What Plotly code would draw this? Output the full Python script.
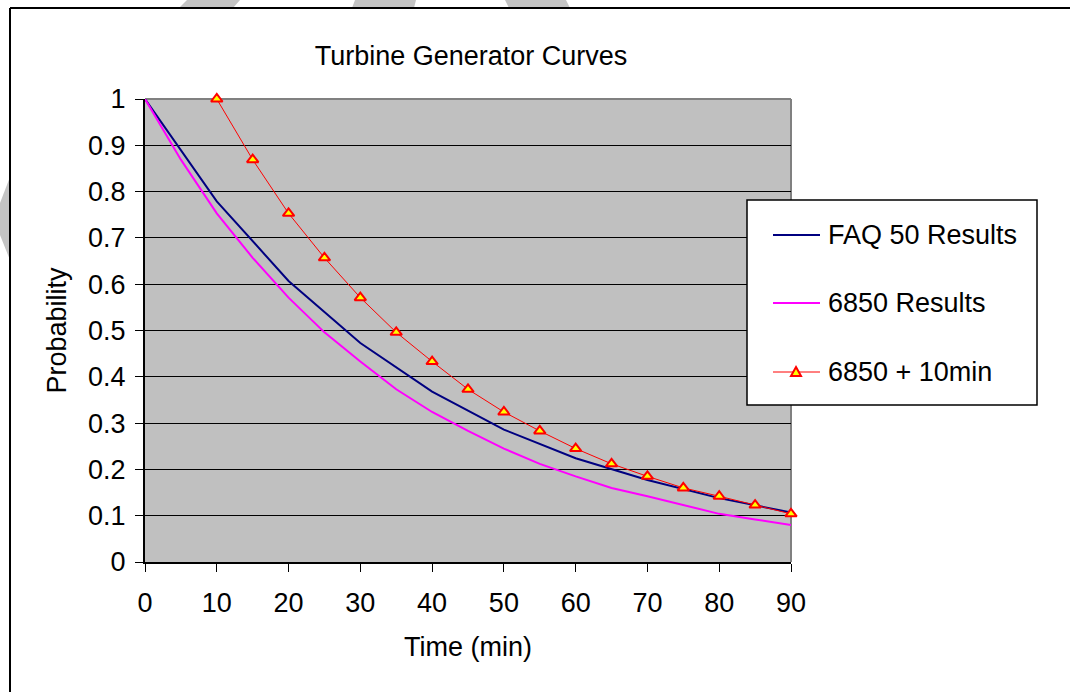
import plotly.graph_objects as go

# ---- data -------------------------------------------------------------
time_faq = [0, 10, 20, 30, 40, 50, 60, 70, 80, 90]
faq50_results = [1.0, 0.779, 0.607, 0.473, 0.368, 0.286, 0.224, 0.177, 0.138, 0.107]

time_6850 = [0, 5, 10, 15, 20, 25, 30, 35, 40, 45, 50, 55, 60, 65, 70, 75, 80, 85, 90]
results_6850 = [1.0, 0.869, 0.753, 0.657, 0.571, 0.496, 0.433, 0.373, 0.324, 0.283,
                0.245, 0.212, 0.185, 0.160, 0.142, 0.123, 0.104, 0.092, 0.080]

time_6850_plus10 = [10, 15, 20, 25, 30, 35, 40, 45, 50, 55, 60, 65, 70, 75, 80, 85, 90]
results_6850_plus10 = [1.0, 0.869, 0.753, 0.657, 0.571, 0.496, 0.433, 0.373, 0.324,
                       0.283, 0.245, 0.212, 0.185, 0.160, 0.142, 0.123, 0.104]

x_ticks = [0, 10, 20, 30, 40, 50, 60, 70, 80, 90]
y_ticks = [0, 0.1, 0.2, 0.3, 0.4, 0.5, 0.6, 0.7, 0.8, 0.9, 1]
y_tick_labels = ["0", "0.1", "0.2", "0.3", "0.4", "0.5", "0.6", "0.7", "0.8", "0.9", "1"]

series_names = ["FAQ 50 Results", "6850 Results", "6850 + 10min"]

# ---- page geometry ----------------------------------------------------
W, H = 1070, 692
ML, MR, MT, MB = 145, 279, 99, 130
PW, PH = W - ML - MR, H - MT - MB
FONT = "Liberation Sans, Arial, sans-serif"
FS = 27


def px(x):
    return (x - ML) / PW


def py(y):
    return (H - MB - y) / PH


fig = go.Figure()

fig.add_trace(go.Scatter(x=time_faq, y=faq50_results, mode="lines",
                         line=dict(color="#000080", width=2),
                         name=series_names[0], showlegend=False))
fig.add_trace(go.Scatter(x=time_6850, y=results_6850, mode="lines",
                         line=dict(color="#FF00FF", width=2),
                         name=series_names[1], showlegend=False))
fig.add_trace(go.Scatter(x=time_6850_plus10, y=results_6850_plus10, mode="lines+markers",
                         line=dict(color="#FF0000", width=1),
                         marker=dict(symbol="triangle-up", size=10, color="#FFFF00",
                                     line=dict(color="#FF0000", width=2)),
                         name=series_names[2], showlegend=False, cliponaxis=False))

shapes = []

# plot-area frame on the top and right sides
shapes.append(dict(type="line", xref="paper", yref="paper", x0=0, x1=1, y0=1, y1=1,
                   line=dict(color="#808080", width=2), layer="between"))
shapes.append(dict(type="line", xref="paper", yref="paper", x0=1, x1=1, y0=0, y1=1,
                   line=dict(color="#808080", width=2), layer="between"))

# light grey watermark pieces outside the chart frame
wm = "#C4C4C4"
for poly in ([(187, 0), (240, 0), (233, 8), (179, 8)],
             [(355, 0), (416, 0), (414, 8), (352, 8)],
             [(505, 0), (566, 0), (570, 8), (509, 8)],
             [(10, 177), (0, 203), (0, 235), (10, 260)]):
    path = "M " + " L ".join(f"{px(a):.5f},{py(b):.5f}" for a, b in poly) + " Z"
    shapes.append(dict(type="path", xref="paper", yref="paper", path=path,
                       fillcolor=wm, line=dict(width=0), layer="above"))

# outer chart frame
shapes.append(dict(type="line", xref="paper", yref="paper",
                   x0=px(10), x1=px(W + 5), y0=py(8), y1=py(8),
                   line=dict(color="#000000", width=2), layer="above"))
shapes.append(dict(type="line", xref="paper", yref="paper",
                   x0=px(10), x1=px(10), y0=py(8), y1=py(H + 5),
                   line=dict(color="#000000", width=2), layer="above"))

# legend box
lx0, lx1, ly0, ly1 = 747, 1037, 200, 405
shapes.append(dict(type="rect", xref="paper", yref="paper",
                   x0=px(lx0), x1=px(lx1), y0=py(ly1), y1=py(ly0),
                   fillcolor="#FFFFFF", line=dict(color="#000000", width=1.5), layer="above"))
rows = [235, 303, 372]
colors = ["#000080", "#FF00FF", "#FF0000"]
widths = [2, 2, 1]
annotations = []
for name, yrow, c, w in zip(series_names, rows, colors, widths):
    shapes.append(dict(type="line", xref="paper", yref="paper",
                       x0=px(773), x1=px(820), y0=py(yrow), y1=py(yrow),
                       line=dict(color=c, width=w), layer="above"))
    annotations.append(dict(text=name, xref="paper", yref="paper",
                            x=px(826), y=py(yrow), xanchor="left", yanchor="middle",
                            showarrow=False, font=dict(family=FONT, size=FS, color="#000000")))
# triangle glyph in the third legend row
tx, ty = 796, rows[2]
tri = [(tx, ty - 5), (tx + 5, ty + 4), (tx - 5, ty + 4)]
shapes.append(dict(type="path", xref="paper", yref="paper",
                   path="M " + " L ".join(f"{px(a):.5f},{py(b):.5f}" for a, b in tri) + " Z",
                   fillcolor="#FFFF00", line=dict(color="#FF0000", width=2), layer="above"))

fig.update_layout(
    width=W, height=H,
    margin=dict(l=ML, r=MR, t=MT, b=MB),
    paper_bgcolor="#FFFFFF",
    plot_bgcolor="#C0C0C0",
    font=dict(family=FONT, size=FS, color="#000000"),
    title=dict(text="Turbine Generator Curves", x=471 / W, xanchor="center", xref="container",
               y=1 - 56 / H, yanchor="middle", yref="container",
               font=dict(family=FONT, size=FS, color="#000000")),
    showlegend=False,
    shapes=shapes,
    annotations=annotations,
)

fig.update_xaxes(
    range=[0, 90], tickmode="array", tickvals=x_ticks,
    showgrid=False, zeroline=False,
    showline=True, linecolor="#000000", linewidth=2,
    ticks="outside", ticklen=8, tickwidth=1, tickcolor="#000000",
    ticklabelstandoff=8,
    tickfont=dict(family=FONT, size=FS, color="#000000"),
    title=dict(text="Time (min)", standoff=20,
               font=dict(family=FONT, size=FS, color="#000000")),
)
fig.update_yaxes(
    range=[0, 1], tickmode="array", tickvals=y_ticks, ticktext=y_tick_labels,
    showgrid=True, gridcolor="#000000", gridwidth=1, zeroline=False,
    showline=True, linecolor="#000000", linewidth=2,
    ticks="outside", ticklen=8, tickwidth=1, tickcolor="#000000",
    ticklabelstandoff=4,
    tickfont=dict(family=FONT, size=FS, color="#000000"),
    title=dict(text="Probability", standoff=14,
               font=dict(family=FONT, size=FS, color="#000000")),
)

fig.write_html("out.html")
